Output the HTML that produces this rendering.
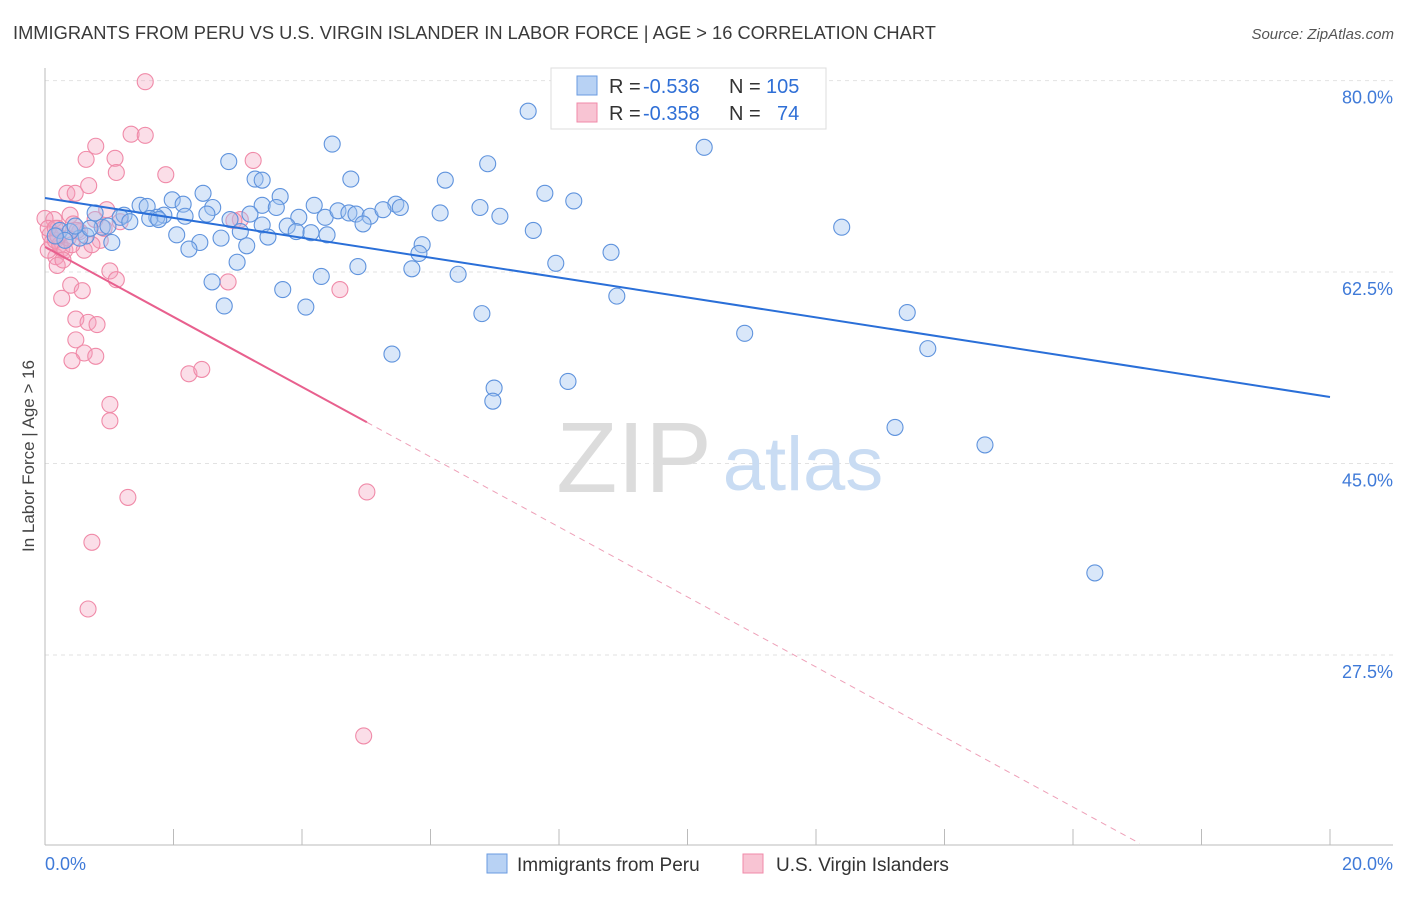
<!DOCTYPE html>
<html><head><meta charset="utf-8"><style>
body{margin:0;background:#fff;font-family:"Liberation Sans",sans-serif;}
svg text{font-family:"Liberation Sans",sans-serif;}
</style></head><body>
<svg id="chart" width="1406" height="892" xmlns="http://www.w3.org/2000/svg">
<text x="13" y="39" font-size="18.3" fill="#3a3a3a">IMMIGRANTS FROM PERU VS U.S. VIRGIN ISLANDER IN LABOR FORCE | AGE &gt; 16 CORRELATION CHART</text>
<text x="1394" y="39" font-size="15" fill="#555" text-anchor="end" font-style="italic">Source: ZipAtlas.com</text>
<g id="grid"></g>
<g>
<text x="634" y="492" font-size="100" fill="#dcdcdc" font-family="Liberation Serif" text-anchor="middle">ZIP</text>
<text x="803" y="490" font-size="76" fill="#c9dcf3" text-anchor="middle">atlas</text>
</g>
<g id="axes"></g>
<g id="pinkPts"></g>
<g id="bluePts"></g>
<g id="lines"></g>
<text transform="translate(34,456) rotate(-90)" font-size="17" fill="#444" text-anchor="middle">In Labor Force | Age &gt; 16</text>
<g>
<rect x="551" y="68" width="275" height="61" fill="#fff" stroke="#ddd"/>
<rect x="577" y="76" width="20" height="19" fill="#b8d2f4" stroke="#6a9be0"/>
<rect x="577" y="103" width="20" height="19" fill="#f8c4d3" stroke="#f08aa8"/>
<text x="609" y="93" font-size="20" fill="#333">R =</text>
<text x="643" y="93" font-size="20" fill="#2f6fd6">-0.536</text>
<text x="729" y="93" font-size="20" fill="#333">N =</text>
<text x="766" y="93" font-size="20" fill="#2f6fd6">105</text>
<text x="609" y="120" font-size="20" fill="#333">R =</text>
<text x="643" y="120" font-size="20" fill="#2f6fd6">-0.358</text>
<text x="729" y="120" font-size="20" fill="#333">N =</text>
<text x="777" y="120" font-size="20" fill="#2f6fd6">74</text>
</g>
<g>
<rect x="487" y="854" width="20" height="19" fill="#b8d2f4" stroke="#6a9be0"/>
<text x="517" y="871" font-size="19" fill="#333">Immigrants from Peru</text>
<rect x="743" y="854" width="20" height="19" fill="#f8c4d3" stroke="#f08aa8"/>
<text x="776" y="871" font-size="19" fill="#333">U.S. Virgin Islanders</text>
</g>
</svg>
<script>
const yTicks=[80,62.5,45,27.5];
const yTickLabels=["80.0%","62.5%","45.0%","27.5%"];
const xTickLabels=["0.0%","20.0%"];
const blueX=[7.52,10.26,4.47,6.89,2.86,3.27,3.38,4.76,6.23,7.78,8.23,3.66,2.46,1.98,2.15,1.48,1.59,2.61,3.38,5.46,5.53,4.19,6.77,3.60,1.85,1.74,1.23,1.17,0.78,1.63,2.18,2.52,3.19,3.95,4.36,4.56,4.73,4.84,5.06,5.26,6.15,7.08,2.88,3.38,3.77,3.91,4.14,4.39,4.95,7.60,12.40,0.89,0.98,1.32,1.77,2.05,2.41,2.74,3.04,3.14,3.47,2.24,1.04,0.64,0.54,5.87,5.82,8.81,2.99,4.87,4.30,5.71,6.43,7.95,2.60,3.70,2.79,4.06,8.90,6.80,13.42,10.89,13.74,5.40,8.14,6.99,6.97,13.23,14.63,16.34,0.23,0.39,0.31,0.70,0.16,0.47];
const blueY=[77.2,73.9,74.2,72.4,72.6,71.0,70.9,71.0,70.9,69.7,69.0,69.4,69.7,69.1,68.7,68.6,68.5,68.4,68.6,68.7,68.4,68.6,68.4,68.4,67.7,67.5,67.7,67.5,67.9,67.4,67.6,67.8,67.8,67.5,67.5,68.1,67.9,67.8,67.6,68.2,67.9,67.6,67.3,66.8,66.7,66.2,66.1,65.9,66.9,66.3,66.6,66.6,66.7,67.1,67.3,65.9,65.2,65.6,66.2,64.9,65.7,64.6,65.2,65.8,65.6,65.0,64.2,64.3,63.4,63.0,62.1,62.8,62.3,63.3,61.6,60.9,59.4,59.3,60.3,58.7,58.8,56.9,55.5,55.0,52.5,51.9,50.7,48.3,46.7,35.0,66.3,66.2,65.4,66.5,65.8,66.7];
const pinkX=[1.56,1.34,1.56,0.79,0.64,1.09,1.88,3.24,1.11,0.68,0.34,0.47,0.14,0.39,0.96,0.20,0.54,0.86,0.26,0.61,0.73,0.17,0.19,1.01,1.11,0.40,0.58,0.26,2.85,4.59,0.48,0.67,0.81,0.48,0.61,0.79,0.42,2.24,2.44,1.01,1.01,1.29,5.01,0.73,0.67,4.96,3.04,2.94,0,0.05,0.08,0.11,0.16,0.23,0.31,0.36,0.42,0.20,0.05,0.28,0.44,0.50,0.78,0.92,1.17,0.16];
const pinkY=[79.9,75.1,75.0,74.0,72.8,72.9,71.4,72.7,71.6,70.4,69.7,69.7,67.3,67.7,68.2,66.5,66.2,65.4,64.6,64.5,65.0,63.9,63.1,62.6,61.8,61.3,60.8,60.1,61.6,60.9,58.2,57.9,57.7,56.3,55.1,54.8,54.4,53.2,53.6,50.4,48.9,41.9,42.4,37.8,31.7,20.1,67.3,67.2,67.4,64.5,65.9,65.2,65.4,65.0,64.5,65.6,65.0,65.8,66.5,63.6,66.9,66.3,67.3,66.5,67.1,66.5];
const blueTrend=[69.27,51.08]; // y at x=0 and x=20
const pinkTrend=[64.8,-3.2]; // intercept, slope per %
const pinkSolidEnd=5.01, pinkDashEnd=17.04;
const NS="http://www.w3.org/2000/svg";
const X0=45,X1=1330,Y80=80.6,PX=10.94;
const sx=v=>X0+(X1-X0)*v/20;
const sy=v=>Y80+(80-v)*PX;
function mk(tag,attrs,parent){const e=document.createElementNS(NS,tag);for(const k in attrs)e.setAttribute(k,attrs[k]);parent.appendChild(e);return e;}
const grid=document.getElementById('grid'),axes=document.getElementById('axes');
yTicks.forEach((t,i)=>{
 const g=mk('line',{x1:45,x2:1393,y1:sy(t),y2:sy(t),stroke:'#e2e2e2','stroke-dasharray':'4,4'},grid);
 
 
 const l=mk('text',{x:1393,y:sy(t)+23,'font-size':18,fill:'#3f7ad8','text-anchor':'end'},axes);
 l.textContent=yTickLabels[i];
 
 
});
const ax=mk('line',{x1:45,x2:45,y1:68,y2:845,stroke:'#bbb'},axes);


const bx=mk('line',{x1:45,x2:1393,y1:845,y2:845,stroke:'#bbb'},axes);


for(let i=0;i<=10;i++){const t=mk('line',{x1:sx(i*2),x2:sx(i*2),y1:829,y2:845,stroke:'#bbb'},axes);
 
 }
[[0,45,'start'],[1,1393,'end']].forEach(([i,x,a])=>{const l=mk('text',{x:x,y:870,'font-size':18,fill:'#3f7ad8','text-anchor':a},axes);l.textContent=xTickLabels[i];
 
 });
const pg=document.getElementById('pinkPts');
pinkX.forEach((v,i)=>{const c=mk('circle',{cx:sx(v),cy:sy(pinkY[i]),r:8,fill:'rgba(244,160,188,0.35)',stroke:'#f08aa8','stroke-width':1.1},pg);
 
 });
const bg=document.getElementById('bluePts');
blueX.forEach((v,i)=>{const c=mk('circle',{cx:sx(v),cy:sy(blueY[i]),r:8,fill:'rgba(160,195,240,0.4)',stroke:'#5f93dd','stroke-width':1.1},bg);
 
 });
const lg=document.getElementById('lines');
const b=mk('line',{x1:sx(0),y1:sy(blueTrend[0]),x2:sx(20),y2:sy(blueTrend[1]),stroke:'#2a6fd8','stroke-width':2},lg);


const pf=x=>pinkTrend[0]+pinkTrend[1]*x;
const p1=mk('line',{x1:sx(0),y1:sy(pf(0)),x2:sx(pinkSolidEnd),y2:sy(pf(pinkSolidEnd)),stroke:'#e8608e','stroke-width':2},lg);


const p2=mk('line',{x1:sx(pinkSolidEnd),y1:sy(pf(pinkSolidEnd)),x2:sx(pinkDashEnd),y2:sy(pf(pinkDashEnd)),stroke:'#eea0b8','stroke-width':1,'stroke-dasharray':'6,5'},lg);


</script>
</body></html>
